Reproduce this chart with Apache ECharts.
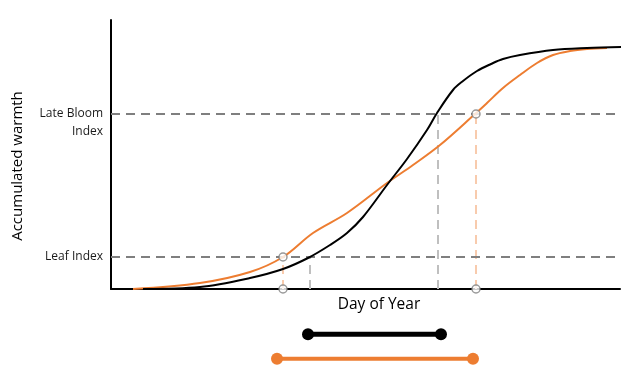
<!DOCTYPE html>
<html>
<head>
<meta charset="utf-8">
<script src="https://cdn.jsdelivr.net/npm/echarts@6/dist/echarts.min.js"></script>
<style>html,body{margin:0;padding:0;background:#fff;}#c{width:624px;height:371px;}</style>
</head>
<body>
<div id="c"></div>
<script>
// Day of year (arbitrary units along x) and accumulated warmth (arbitrary units)
var blackCurve = [[32,0],[89,2],[139,11],[172,20],[197,31],[219,44],[236,56],[252,72],[276,104],[296,130],[316,159],[326,176],[342,199],[352,208],[366,218],[380,225],[392,230],[409,234],[442,239],[476,241],[510,242]];
var orangeCurve = [[22,0],[89,6],[139,17],[172,32],[202,56],[236,76],[276,106],[302,124],[329,144],[364,175],[376,186],[392,201],[409,214],[426,226],[442,234],[459,238],[476,240],[496,241]];
var leafIndex = 32;
var lateBloomIndex = 175;
var blackCross = [199, 327];   // day when black curve reaches leaf / late bloom index
var orangeCross = [172, 365];  // day when orange curve reaches leaf / late bloom index
var blackRange = [197, 330];
var orangeRange = [166, 362];
var rangeRows = ['orange', 'black'];

var FONT = 'Open Sans';
var chart = echarts.init(document.getElementById('c'));

function hLine(y) { return { type:'line', xAxisIndex:0, yAxisIndex:0, data:[[0,y],[506,y]], symbol:'none', silent:true,
  lineStyle:{color:'#7f7f7f', width:2, type:[9,6]}, z:3 }; }
function vLine(x, y, color) { return { type:'line', xAxisIndex:0, yAxisIndex:0, data:[[x,0],[x,y]], symbol:'none', silent:true,
  lineStyle:{color:color, width:2, type:[9,6]}, z:2 }; }

chart.setOption({
  animation:false,
  grid:[
    {left:111, top:20, width:509, height:269},
    {left:111, top:322, width:509, height:52}
  ],
  xAxis:[
    {type:'value', gridIndex:0, min:0, max:509, axisLine:{lineStyle:{color:'#000', width:2}}, axisTick:{show:false}, axisLabel:{show:false}, splitLine:{show:false}},
    {type:'value', gridIndex:1, min:0, max:509, show:false}
  ],
  yAxis:[
    {type:'value', gridIndex:0, min:0, max:269, axisLine:{show:true, lineStyle:{color:'#000', width:2}}, axisTick:{show:false}, splitLine:{show:false},
     axisLabel:{customValues:[leafIndex, lateBloomIndex], margin:8, fontFamily:FONT, fontSize:12, lineHeight:18, color:'#1a1a1a',
       formatter:function(v){ return v === lateBloomIndex ? '\nLate Bloom\nIndex' : 'Leaf Index'; }}},
    {type:'category', gridIndex:1, data:rangeRows, show:false}
  ],
  graphic:[
    {type:'text', x:379, y:305, style:{text:'Day of Year', x:0, y:0, align:'center', verticalAlign:'middle', fontFamily:FONT, fontSize:15.5, fill:'#000'}},
    {type:'text', rotation:Math.PI/2, x:18, y:166, style:{text:'Accumulated warmth', x:0, y:0, align:'center', verticalAlign:'middle', fontFamily:FONT, fontSize:15, fill:'#000'}}
  ],
  series:[
    hLine(leafIndex), hLine(lateBloomIndex),
    vLine(blackCross[0], leafIndex, '#bfbfbf'), vLine(blackCross[1], lateBloomIndex, '#bfbfbf'),
    vLine(orangeCross[0], leafIndex, '#f8cbad'), vLine(orangeCross[1], lateBloomIndex, '#f8cbad'),
    {type:'line', xAxisIndex:0, yAxisIndex:0, data:orangeCurve, smooth:0.35, symbol:'none', lineStyle:{color:'#ed7d31', width:2}, z:4},
    {type:'line', xAxisIndex:0, yAxisIndex:0, data:blackCurve, smooth:0.35, symbol:'none', lineStyle:{color:'#000', width:2}, z:5},
    {type:'scatter', xAxisIndex:0, yAxisIndex:0, data:[[orangeCross[0],leafIndex],[orangeCross[0],0],[orangeCross[1],lateBloomIndex],[orangeCross[1],0]],
     symbol:'circle', symbolSize:8, itemStyle:{color:'#fff', borderColor:'#7f7f7f', borderWidth:1.5}, z:10},
    {type:'line', xAxisIndex:1, yAxisIndex:1, data:[[blackRange[0],'black'],[blackRange[1],'black']], symbol:'circle', symbolSize:12, showSymbol:true,
     lineStyle:{color:'#000', width:5}, itemStyle:{color:'#000'}},
    {type:'line', xAxisIndex:1, yAxisIndex:1, data:[[orangeRange[0],'orange'],[orangeRange[1],'orange']], symbol:'circle', symbolSize:12, showSymbol:true,
     lineStyle:{color:'#ed7d31', width:4}, itemStyle:{color:'#ed7d31'}}
  ]
});
</script>
</body>
</html>
